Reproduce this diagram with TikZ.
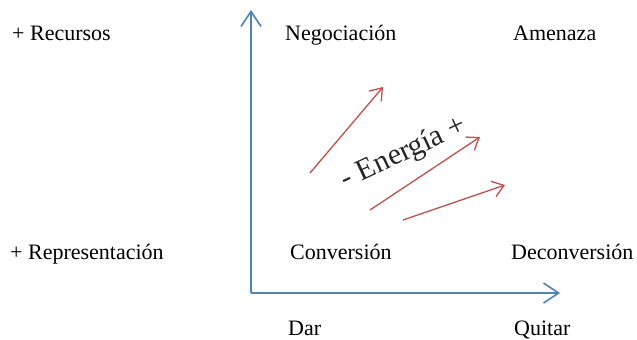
\documentclass[tikz,border=0pt]{standalone}
\usepackage{fontspec}
\setmainfont{Liberation Serif}
\usetikzlibrary{arrows.meta}
\definecolor{axisblue}{RGB}{79,129,189}
\definecolor{arrred}{RGB}{192,80,77}
\tikzset{
  lbl/.style={anchor=base west, inner sep=0pt, font=\fontsize{22bp}{26bp}\selectfont},
  axisline/.style={draw=axisblue, line width=1.6bp, -{Straight Barb[length=15bp,width=20bp,line width=1.6bp]}},
  redarrow/.style={draw=arrred, line width=1.3bp, -{Straight Barb[length=11bp,width=16bp,line width=1.3bp]}},
  energy/.style={anchor=base, inner sep=0pt, rotate=25, font=\fontsize{30bp}{34bp}\selectfont, text=black!85}
}
\begin{document}
\begin{tikzpicture}[x=1bp,y=-1bp]
\useasboundingbox[fill=white] (0,0) rectangle (637,339);
% axes
\coordinate (O) at (251,293);
\coordinate (ytop) at (251,10);
\coordinate (xend) at (560,293);
\draw[axisline] (O) -- (ytop);
\draw[axisline] (O) -- (xend);
% labels
\node[lbl] (rec) at (12,40) {+ Recursos};
\node[lbl] (rep) at (10,259) {+ Representación};
\node[lbl] (neg) at (285,40) {Negociación};
\node[lbl] (ame) at (513,40) {Amenaza};
\node[lbl] (con) at (290,259) {Conversión};
\node[lbl] (dec) at (511,259) {Deconversión};
\node[lbl] (dar) at (288,335) {Dar};
\node[lbl] (qui) at (514,335) {Quitar};
% energy arrows
\coordinate (a1s) at (310,173);
\coordinate (a1e) at (383,87);
\coordinate (a2s) at (370,210);
\coordinate (a2e) at (480,137);
\coordinate (a3s) at (403,220);
\coordinate (a3e) at (505,185);
\draw[redarrow] (a1s) -- (a1e);
\draw[redarrow] (a2s) -- (a2e);
\draw[redarrow] (a3s) -- (a3e);
\node[energy] (en) at (407,160) {- Energía +};
\end{tikzpicture}
\end{document}
